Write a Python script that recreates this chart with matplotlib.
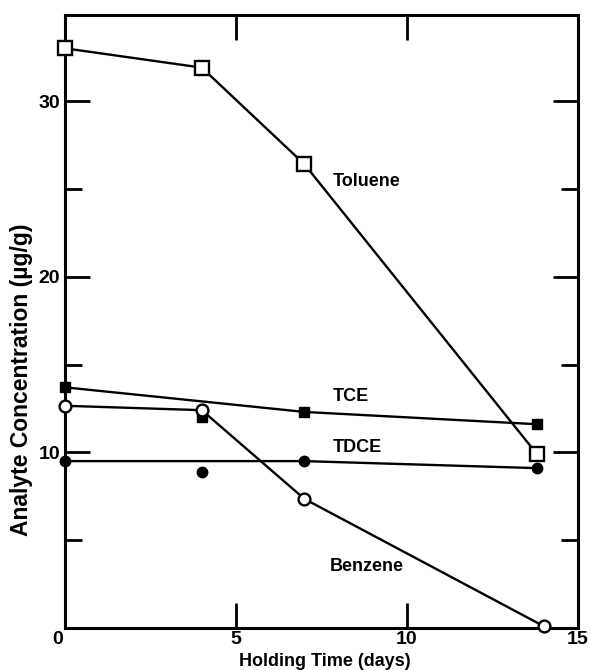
import numpy as np
import matplotlib
matplotlib.use('Agg')
from matplotlib import pyplot as plt
from matplotlib.ticker import MultipleLocator

# datos
dias_tol = [0, 4, 7, 13.8]
tolueno = [33.0, 31.9, 26.4, 9.9]

dias_tce = [0, 4, 7, 13.8]
tce = [13.7, 12.0, 12.3, 11.6]

dias_tdce = [0, 4, 7, 13.8]
tdce = [9.5, 8.9, 9.5, 9.1]

dias_ben = [0, 4, 7, 14.0]
benceno = [12.65, 12.4, 7.35, 0.1]

# la linea de TCE y TDCE no pasa por el punto del dia 4
idx_linea = [0, 2, 3]

etiquetas = ['Toluene', 'TCE', 'TDCE', 'Benzene']
pos_etiquetas = [(7.84, 25.4), (7.84, 13.2), (7.84, 10.26), (7.75, 3.48)]

plt.rcParams['font.family'] = ['Liberation Sans', 'DejaVu Sans']
plt.rcParams['font.weight'] = 'bold'

fig = plt.figure(figsize=(5.91, 6.70), dpi=100)
ax = fig.add_axes([0.110, 0.0627, 0.868, 0.915])

lw = 1.7
ax.plot(dias_tol, tolueno, color='black', lw=lw, marker='s', ms=10,
        mfc='white', mec='black', mew=1.7, zorder=3, clip_on=False)
ax.plot([dias_tce[i] for i in idx_linea], [tce[i] for i in idx_linea],
        color='black', lw=lw, zorder=2)
ax.plot(dias_tce, tce, ls='none', marker='s', ms=7, color='black', zorder=3,
        clip_on=False)
ax.plot([dias_tdce[i] for i in idx_linea], [tdce[i] for i in idx_linea],
        color='black', lw=lw, zorder=2)
ax.plot(dias_tdce, tdce, ls='none', marker='o', ms=7.5, color='black', zorder=3,
        clip_on=False)
ax.plot(dias_ben, benceno, color='black', lw=lw, marker='o', ms=8.5,
        mfc='white', mec='black', mew=1.7, zorder=4, clip_on=False)

for texto, (px, py) in zip(etiquetas, pos_etiquetas):
    ax.text(px, py, texto, fontsize=13, fontweight='bold', ha='left', va='center')

ax.set_xlim(0, 15)
ax.set_ylim(0, 34.9)

ax.set_xticks([5, 10, 15])
ax.set_xticklabels(['5', '10', '15'])
ax.set_yticks([10, 20, 30])
ax.yaxis.set_minor_locator(MultipleLocator(5))
ax.tick_params(axis='both', which='major', direction='in', length=18, width=2,
               top=True, right=True, labelsize=14)
ax.tick_params(axis='y', which='minor', direction='in', length=12, width=2,
               left=True, right=True)
ax.tick_params(axis='x', which='minor', bottom=False, top=False)
ax.tick_params(axis='x', pad=2)
ax.tick_params(axis='y', pad=3.5)
for lab in ax.get_xticklabels() + ax.get_yticklabels():
    lab.set_fontweight('bold')

ax.text(-0.06, -0.15, '0', fontsize=14, fontweight='bold', ha='right', va='top')

for sp in ax.spines.values():
    sp.set_linewidth(2.2)

ax.set_xlabel('Holding Time (days)', fontsize=13, fontweight='bold')
ax.set_ylabel('Analyte Concentration (µg/g)', fontsize=16.5, fontweight='bold')
ax.xaxis.set_label_coords(0.507, -0.040)
ax.yaxis.set_label_coords(-0.062, 0.405)

fig.savefig('out.png', dpi=100)
